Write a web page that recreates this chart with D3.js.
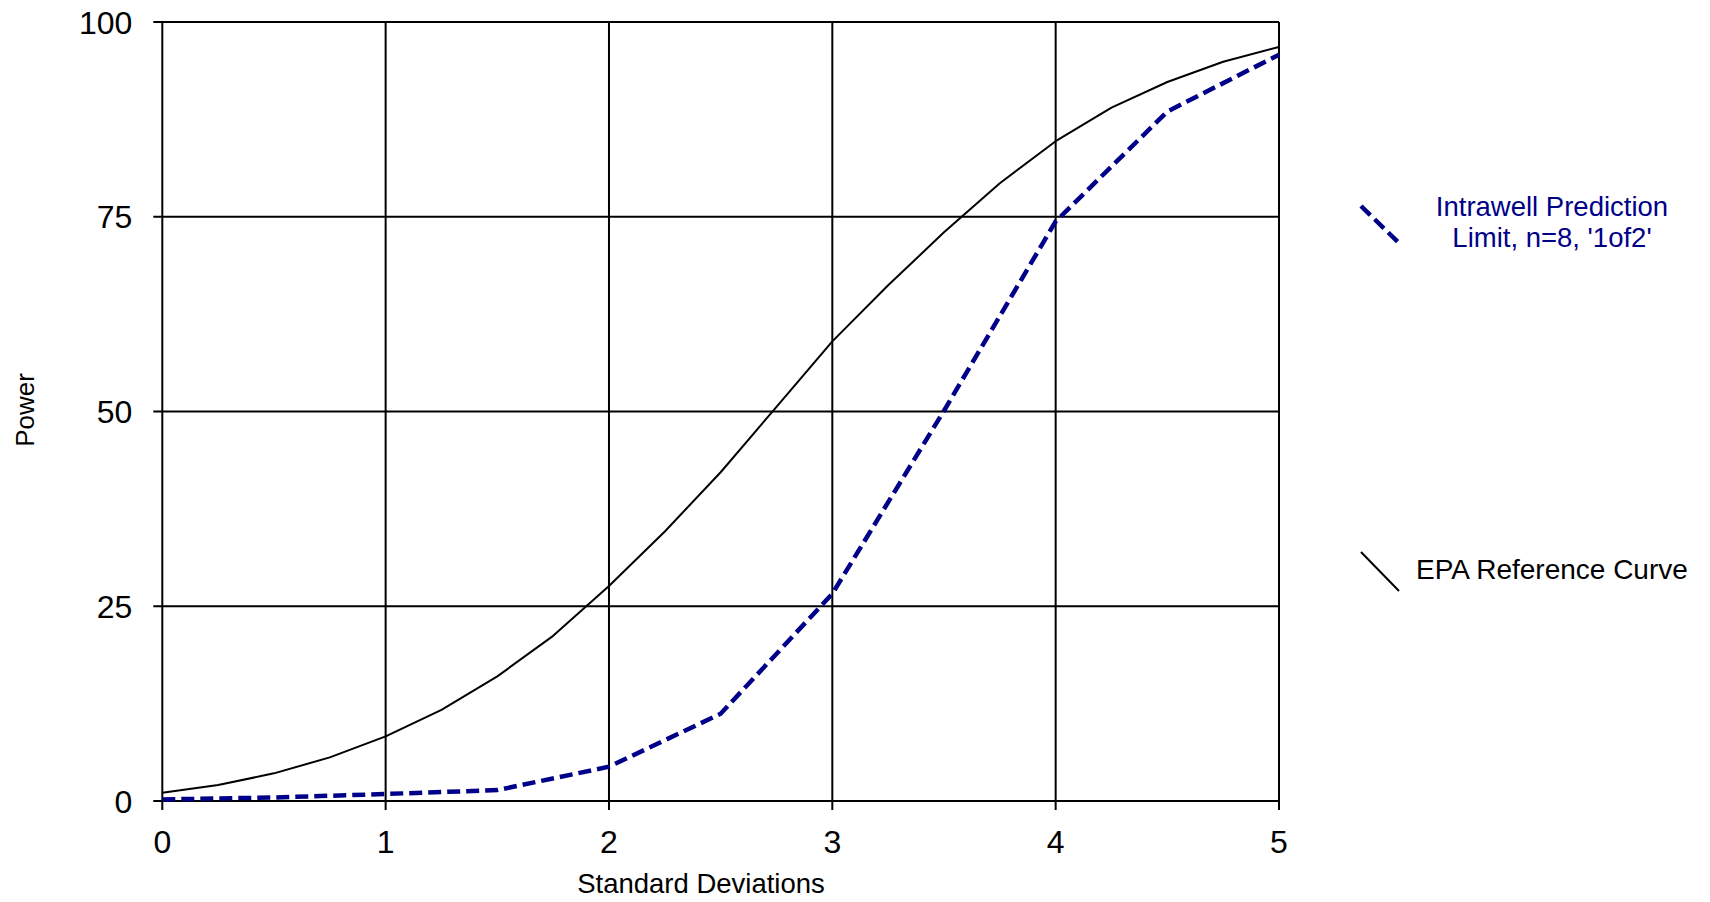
<!DOCTYPE html>
<html>
<head>
<meta charset="utf-8">
<script src="https://cdn.jsdelivr.net/npm/d3@7"></script>
<style>
  html, body { margin: 0; padding: 0; background: #fff; }
  svg text { font-family: "Liberation Sans", Arial, sans-serif; }
</style>
</head>
<body>
<div id="chart"></div>
<script>
// data
const xTicks = [0, 1, 2, 3, 4, 5];
const yTicks = [0, 25, 50, 75, 100];

const intrawellSd = [0, 0.5, 1, 1.5, 2, 2.5, 3, 3.5, 4, 4.5, 5];
const intrawellPower = [0.2, 0.45, 0.9, 1.4, 4.4, 11.2, 26.6, 50.1, 74.4, 88.5, 95.8];

const epaSd = [0, 0.25, 0.5, 0.75, 1, 1.25, 1.5, 1.75, 2, 2.25, 2.5, 2.75, 3, 3.25, 3.5, 3.75, 4, 4.25, 4.5, 4.75, 5];
const epaPower = [1.07, 2.05, 3.55, 5.6, 8.3, 11.7, 16.0, 21.2, 27.6, 34.6, 42.2, 50.6, 59.0, 66.2, 73.0, 79.3, 84.7, 89.0, 92.3, 94.9, 96.8];

const seriesNames = ["Intrawell Prediction", "Limit, n=8, '1of2'"];
const refName = 'EPA Reference Curve';

const W = 1710, H = 902;
const margin = { top: 22, right: 431, bottom: 101, left: 162.3 };
const width = W - margin.left - margin.right,
  height = H - margin.top - margin.bottom;
const blue = '#000088';

const svg = d3
  .select('#chart')
  .append('svg')
  .attr('width', W)
  .attr('height', H);

const g = svg
  .append('g')
  .attr('transform', 'translate(' + margin.left + ',' + margin.top + ')');

const x = d3.scaleLinear().domain([0, 5]).range([0, width]);
const y = d3.scaleLinear().domain([0, 100]).range([height, 0]);

// grid (also gives the frame)
g.append('g')
  .selectAll('line')
  .data(yTicks)
  .join('line')
  .attr('x1', -9)
  .attr('x2', width)
  .attr('y1', (d) => y(d))
  .attr('y2', (d) => y(d))
  .attr('stroke', '#000')
  .attr('stroke-width', 2);

g.append('g')
  .selectAll('line')
  .data(xTicks)
  .join('line')
  .attr('x1', (d) => x(d))
  .attr('x2', (d) => x(d))
  .attr('y1', 0)
  .attr('y2', height + 9)
  .attr('stroke', '#000')
  .attr('stroke-width', 2);

// tick labels
g.append('g')
  .selectAll('text')
  .data(yTicks)
  .join('text')
  .attr('x', -30)
  .attr('y', (d) => y(d))
  .attr('dy', '0.36em')
  .attr('text-anchor', 'end')
  .style('font-size', '32px')
  .text((d) => d);

g.append('g')
  .selectAll('text')
  .data(xTicks)
  .join('text')
  .attr('x', (d) => x(d))
  .attr('y', height + 52)
  .attr('text-anchor', 'middle')
  .style('font-size', '32px')
  .text((d) => d);

// axis titles
svg
  .append('text')
  .attr('x', 701)
  .attr('y', 893)
  .attr('text-anchor', 'middle')
  .style('font-size', '27.5px')
  .text('Standard Deviations');

svg
  .append('text')
  .attr('transform', 'translate(34,410) rotate(-90)')
  .attr('text-anchor', 'middle')
  .style('font-size', '26px')
  .text('Power');

// lines
const line = d3
  .line()
  .x((d) => x(d[0]))
  .y((d) => y(d[1]));

g.append('path')
  .datum(epaSd.map((d, i) => [d, epaPower[i]]))
  .attr('fill', 'none')
  .attr('stroke', '#000')
  .attr('stroke-width', 2)
  .attr('stroke-linejoin', 'round')
  .attr('d', line);

g.append('path')
  .datum(intrawellSd.map((d, i) => [d, intrawellPower[i]]))
  .attr('fill', 'none')
  .attr('stroke', blue)
  .attr('stroke-width', 4.5)
  .attr('stroke-dasharray', '13,6')
  .attr('d', line);

// legend
const legend = svg.append('g');

legend
  .append('line')
  .attr('x1', 1361)
  .attr('y1', 206)
  .attr('x2', 1399)
  .attr('y2', 243)
  .attr('stroke', blue)
  .attr('stroke-width', 4.5)
  .attr('stroke-dasharray', '13,6');

legend
  .selectAll('.lbl')
  .data(seriesNames)
  .join('text')
  .attr('class', 'lbl')
  .attr('x', 1552)
  .attr('y', (d, i) => 216 + i * 31)
  .attr('text-anchor', 'middle')
  .attr('fill', blue)
  .style('font-size', '27.5px')
  .text((d) => d);

legend
  .append('line')
  .attr('x1', 1361)
  .attr('y1', 552)
  .attr('x2', 1399)
  .attr('y2', 591)
  .attr('stroke', '#000')
  .attr('stroke-width', 2);

legend
  .append('text')
  .attr('x', 1416)
  .attr('y', 579)
  .style('font-size', '28px')
  .text(refName);
</script>
</body>
</html>
